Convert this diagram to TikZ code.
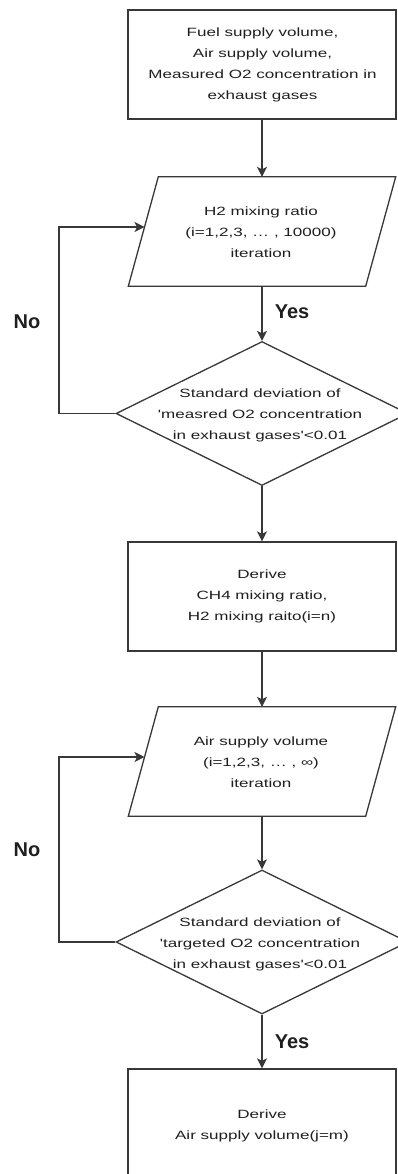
\documentclass[tikz,border=0pt]{standalone}
\usepackage{fontspec}
\setmainfont{Liberation Sans}
\newfontfamily\bodyfont{Liberation Sans}[FakeStretch=1.42]
\usetikzlibrary{shapes.geometric,arrows.meta,calc}
\begin{document}
\begin{tikzpicture}[x=1pt,y=-1pt,
  line/.style={draw=black!78, line width=1.3pt},
  arrow/.style={draw=black!78, line width=1.3pt, -{Stealth[length=10pt,width=10pt,inset=2.5pt]}},
  procbox/.style={line, rectangle, minimum width=268pt, minimum height=109pt, inner sep=0pt},
  iobox/.style={rectangle, minimum width=267pt, minimum height=109pt, inner sep=0pt},
  decision/.style={line, diamond, minimum width=292pt, minimum height=144pt, inner sep=0pt},
  txt/.style={font=\bodyfont\fontsize{12}{21}\selectfont, text=black!88, align=center, inner sep=0pt},
  lab/.style={font=\fontsize{20}{24}\selectfont\bfseries, text=black!88, inner sep=0pt}
]
\useasboundingbox (0,0) rectangle (398,1174);
\fill[white] (0,0) rectangle (398,1174);
\clip (0,0) rectangle (398,1174);

% nodes
\node[procbox] (box1) at (262,64.5) {};
\node[txt] (t1) at (262.5,65) {Fuel supply volume,\\Air supply volume,\\Measured O2 concentration in\\exhaust gases};

\node[iobox] (p1) at (262,231.5) {};
\draw[line] ($(p1.north west)+(30,0)$) -- (p1.north east) -- ($(p1.south east)+(-30,0)$) -- (p1.south west) -- cycle;
\node[txt] (t2) at (261,232) {H2 mixing ratio\\(i=1,2,3, \dots\ , 10000)\\iteration};

\node[decision] (d1) at (262,413.5) {};
\node[txt] (t3) at (260,415) {Standard deviation of\\'measred O2 concentration\\in exhaust gases'<0.01};

\node[procbox] (box2) at (262,596.5) {};
\node[txt] (t4) at (262,596) {Derive\\CH4 mixing ratio,\\H2 mixing raito(i=n)};

\node[iobox] (p2) at (262,761.5) {};
\draw[line] ($(p2.north west)+(30,0)$) -- (p2.north east) -- ($(p2.south east)+(-30,0)$) -- (p2.south west) -- cycle;
\node[txt] (t5) at (261,762.5) {Air supply volume\\(i=1,2,3, \dots\ , ∞)\\iteration};

\node[decision] (d2) at (262,942) {};
\node[txt] (t6) at (260,944) {Standard deviation of\\'targeted O2 concentration\\in exhaust gases'<0.01};

\node[procbox, minimum height=114pt] (box3) at (262,1126) {};
\node[txt] (t7) at (262,1126) {Derive\\Air supply volume(j=m)};

\node[lab] (yes1) at (292,312) {Yes};
\node[lab] (no1) at (27,322) {No};
\node[lab] (no2) at (27,850) {No};
\node[lab] (yes2) at (292,1042) {Yes};

% connectors
\draw[arrow] (box1.south) -- (p1.north);
\draw[arrow] (p1.south) -- (d1.north);
\draw[arrow] (d1.south) -- (box2.north);
\draw[arrow] (box2.south) -- (p2.north);
\draw[arrow] (p2.south) -- (d2.north);
\draw[arrow] (d2.south) -- (box3.north);

\coordinate (lx) at (59,0);
\coordinate (e1) at ($($(p1.north west)+(30,0)$)!0.459!(p1.south west)$);
\coordinate (e2) at ($($(p2.north west)+(30,0)$)!0.459!(p2.south west)$);
\draw[arrow] (d1.west) -- (d1.west -| lx) |- (e1);
\draw[arrow] (d2.west) -- (d2.west -| lx) |- (e2);
\end{tikzpicture}
\end{document}
